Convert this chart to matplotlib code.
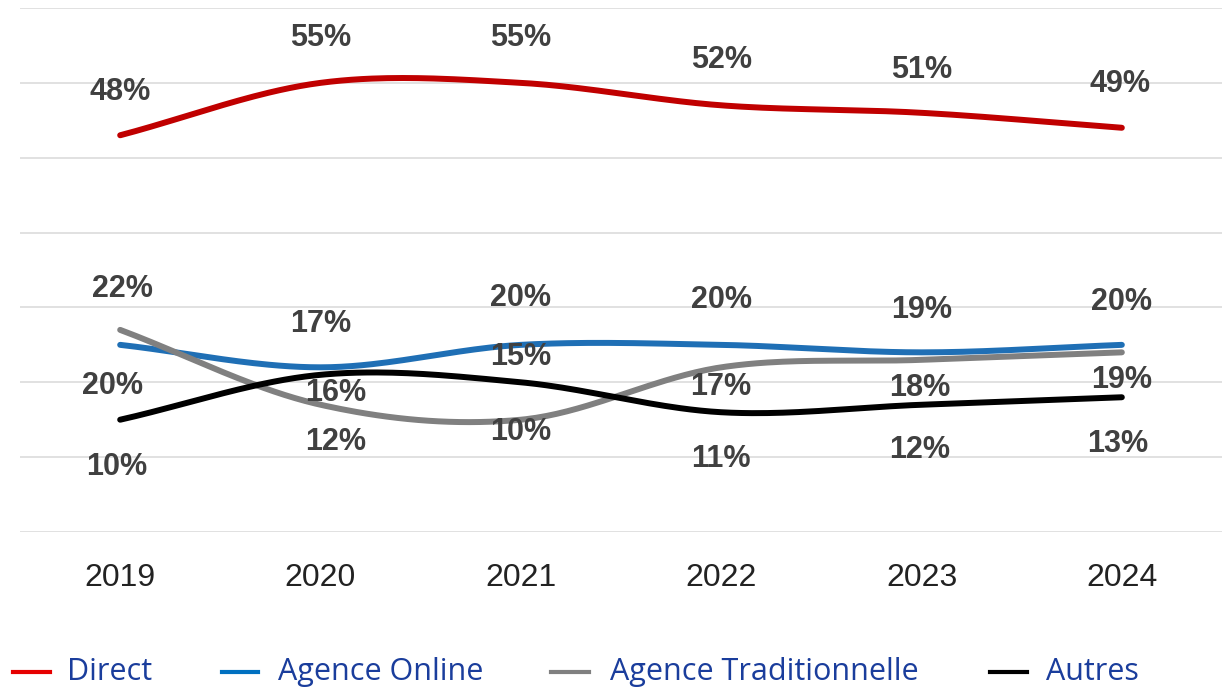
import numpy as np
import matplotlib
matplotlib.use("Agg")
import matplotlib.pyplot as plt
from matplotlib.lines import Line2D

years = [2019, 2020, 2021, 2022, 2023, 2024]
direct = [48, 55, 55, 52, 51, 49]
agence_online = [20, 17, 20, 20, 19, 20]
agence_trad = [22, 12, 10, 17, 18, 19]
autres = [10, 16, 15, 11, 12, 13]
series_names = ["Direct", "Agence Online", "Agence Traditionnelle", "Autres"]

# style only
line_colors = {"Direct": "#c00000", "Agence Online": "#1f6fb5",
               "Agence Traditionnelle": "#808080", "Autres": "#000000"}
legend_colors = {"Direct": "#e60000", "Agence Online": "#0070c0",
                 "Agence Traditionnelle": "#808080", "Autres": "#000000"}
# label offsets in pixels (dx, dy), dy positive = up
label_offsets = {
    "Direct": [(0, 43), (0, 45), (0, 45), (0, 45), (0, 43), (-2, 44)],
    "Agence Online": [(-8, -41), (0, 43), (0, 47), (0, 45), (0, 42), (0, 43)],
    "Agence Traditionnelle": [(2, 41), (15, -37), (0, -12), (0, -20), (-2, -28), (0, -28)],
    "Autres": [(-3, -47), (15, -18), (0, 25), (0, -47), (-2, -45), (-4, -47)],
}


def smooth(x, y, n=40):
    # catmull-rom style smoothing
    x = np.asarray(x, float)
    y = np.asarray(y, float)
    m = np.zeros_like(y)
    m[1:-1] = (y[2:] - y[:-2]) / 2
    m[0] = y[1] - y[0]
    m[-1] = y[-1] - y[-2]
    xs, ys = [], []
    for i in range(len(x) - 1):
        t = np.linspace(0, 1, n)
        h00 = 2 * t**3 - 3 * t**2 + 1
        h10 = t**3 - 2 * t**2 + t
        h01 = -2 * t**3 + 3 * t**2
        h11 = t**3 - t**2
        xs.append(x[i] + t * (x[i + 1] - x[i]))
        ys.append(h00 * y[i] + h10 * m[i] + h01 * y[i + 1] + h11 * m[i + 1])
    return np.concatenate(xs), np.concatenate(ys)


data = {"Direct": direct, "Agence Online": agence_online,
        "Agence Traditionnelle": agence_trad, "Autres": autres}

fig = plt.figure(figsize=(12.25, 6.88), dpi=100)
ax = fig.add_axes([20 / 1225, 1 - 532 / 688, 1202 / 1225, 524 / 688])
ax.set_xlim(2018.5, 2024.5)
ax.set_ylim(-5, 65)

for g in range(-5, 66, 10):
    ax.axhline(g, color="#d9d9d9", lw=1.1, zorder=0)

zorders = {"Agence Online": 2, "Agence Traditionnelle": 3, "Autres": 4, "Direct": 5}
for name in series_names:
    xs, ys = smooth(years, data[name])
    ax.plot(xs, ys, color=line_colors[name], lw=4.3, solid_capstyle="round",
            zorder=zorders[name])
    for i, (yr, v) in enumerate(zip(years, data[name])):
        dx, dy = label_offsets[name][i]
        ax.annotate(f"{v}%", (yr, v), xytext=(dx, dy), textcoords="offset pixels",
                    ha="center", va="center", fontsize=22, fontweight="bold",
                    family="Liberation Sans", color="#404040", zorder=6)

for spine in ax.spines.values():
    spine.set_visible(False)
ax.set_yticks([])
ax.set_xticks(years)
ax.set_xticklabels([str(y) for y in years], fontsize=23, family="Liberation Sans",
                   color="#222222")
ax.tick_params(axis="x", length=0, pad=22)

# legend along the bottom edge
leg_y = 1 - 672 / 688
leg_items = [("Direct", 13, 50, 67), ("Agence Online", 222, 258, 278),
             ("Agence Traditionnelle", 551, 589, 610), ("Autres", 990, 1027, 1046)]
for name, x0, x1, xt in leg_items:
    fig.add_artist(Line2D([x0 / 1225, x1 / 1225], [leg_y, leg_y],
                          color=legend_colors[name], lw=3, transform=fig.transFigure))
    fig.text(xt / 1225, 1 - 680 / 688, name, fontsize=22, family="Open Sans",
             color="#1a3d9c", ha="left", va="baseline")

fig.savefig("out.png", dpi=100)
